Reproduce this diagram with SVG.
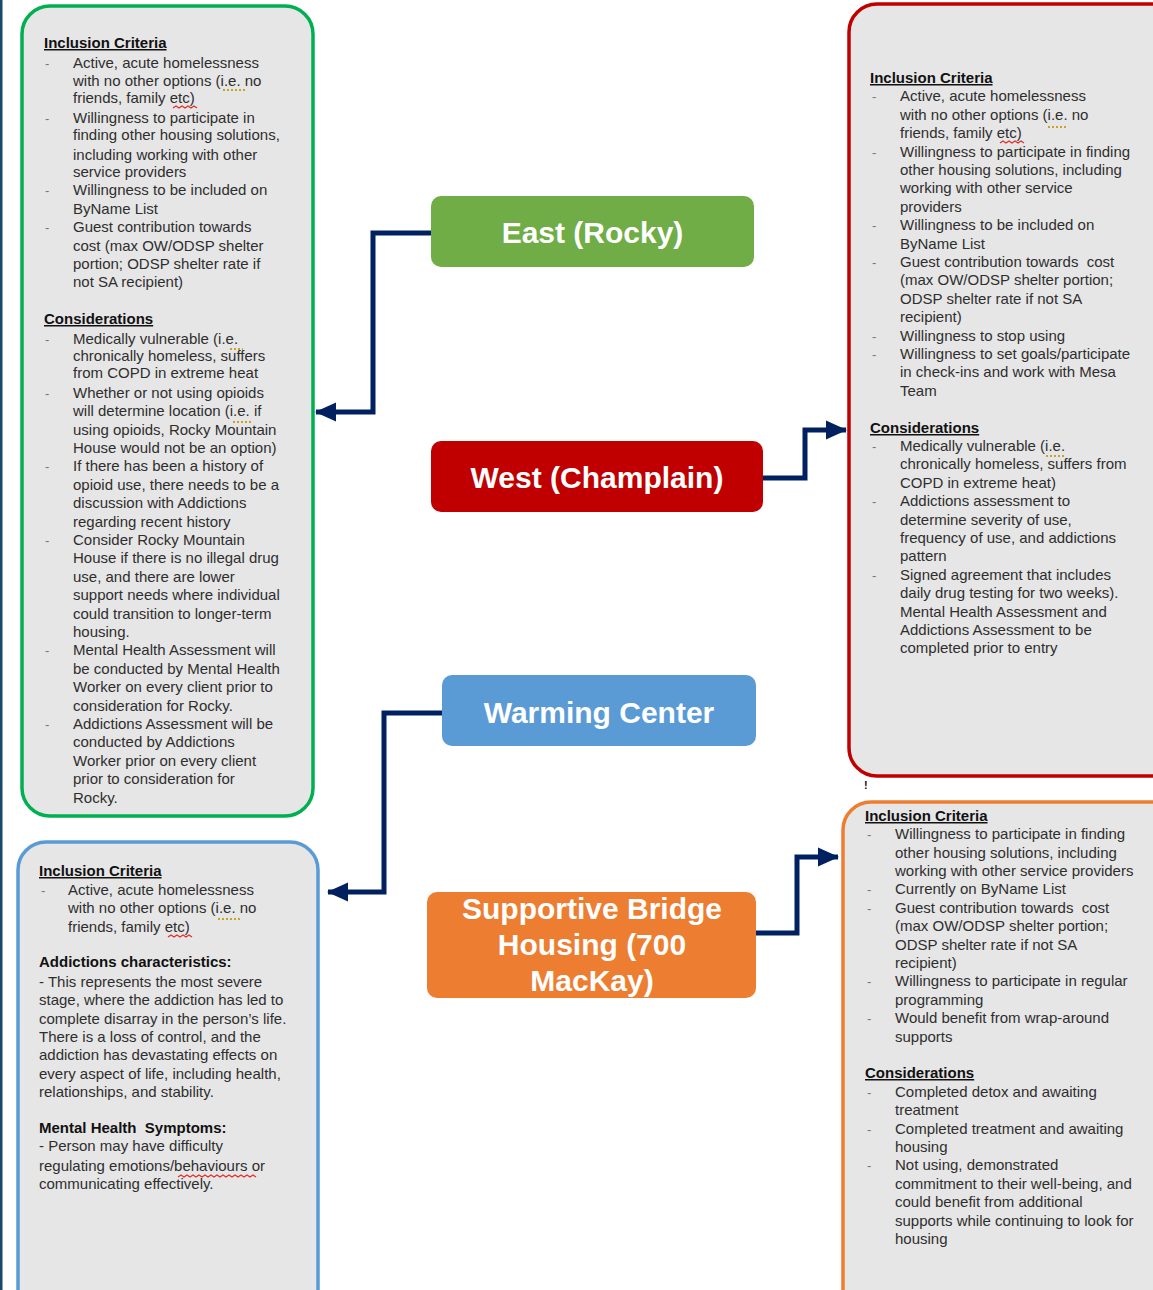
<svg xmlns="http://www.w3.org/2000/svg" width="1153" height="1290" viewBox="0 0 1153 1290">
<style>
.t{font-family:"Liberation Sans",Arial,sans-serif;font-size:15px;fill:#2e2e2e}
.h{font-family:"Liberation Sans",Arial,sans-serif;font-size:15px;font-weight:bold;fill:#111;text-decoration:underline}
.b{font-family:"Liberation Sans",Arial,sans-serif;font-size:15px;font-weight:bold;fill:#111}
.d{font-family:"Liberation Sans",Arial,sans-serif;font-size:13px;fill:#777}
.lbl{font-family:"Liberation Sans",Arial,sans-serif;font-size:30px;font-weight:bold;fill:#fff;text-anchor:middle}
.panel{fill:#e6e6e6;stroke-width:3.5}
.conn{fill:none;stroke:#002060;stroke-width:5;stroke-linejoin:miter}
.ie{fill:none;stroke:#c9a227;stroke-width:2;stroke-dasharray:2 2}
.sp{fill:none;stroke:#e0302a;stroke-width:1.3}
</style>
<defs>
<marker id="arr" markerUnits="userSpaceOnUse" markerWidth="22" markerHeight="22" viewBox="0 0 22 22" refX="20" refY="11" orient="auto">
<path d="M0,1.5 L21,11 L0,20.5 z" fill="#002060"/>
</marker>
</defs>
<rect x="0" y="0" width="1153" height="1290" fill="#ffffff"/>
<rect x="0" y="0" width="2.5" height="1290" fill="#17496b"/>

<g id="panel-east">
<rect class="panel" x="22" y="6" width="291" height="810" rx="28" stroke="#00b050"/>
<text class="h" x="44" y="48">Inclusion Criteria</text>
<text class="d" x="45" y="68">-</text><text class="t" x="73" y="68">Active, acute homelessness</text>
<text class="t" x="73" y="86">with no other options (i.e. no</text>
<text class="t" x="73" y="103">friends, family etc)</text>
<text class="d" x="45" y="123">-</text><text class="t" x="73" y="123">Willingness to participate in</text>
<text class="t" x="73" y="140">finding other housing solutions,</text>
<text class="t" x="73" y="160">including working with other</text>
<text class="t" x="73" y="177">service providers</text>
<text class="d" x="45" y="195">-</text><text class="t" x="73" y="195">Willingness to be included on</text>
<text class="t" x="73" y="214">ByName List</text>
<text class="d" x="45" y="232">-</text><text class="t" x="73" y="232">Guest contribution towards</text>
<text class="t" x="73" y="251">cost (max OW/ODSP shelter</text>
<text class="t" x="73" y="269">portion; ODSP shelter rate if</text>
<text class="t" x="73" y="287">not SA recipient)</text>
<text class="h" x="44" y="324">Considerations</text>
<text class="d" x="45" y="344">-</text><text class="t" x="73" y="344">Medically vulnerable (i.e.</text>
<text class="t" x="73" y="361">chronically homeless, suffers</text>
<text class="t" x="73" y="378">from COPD in extreme heat</text>
<text class="d" x="45" y="398">-</text><text class="t" x="73" y="398">Whether or not using opioids</text>
<text class="t" x="73" y="416">will determine location (i.e. if</text>
<text class="t" x="73" y="435">using opioids, Rocky Mountain</text>
<text class="t" x="73" y="453">House would not be an option)</text>
<text class="d" x="45" y="471">-</text><text class="t" x="73" y="471">If there has been a history of</text>
<text class="t" x="73" y="490">opioid use, there needs to be a</text>
<text class="t" x="73" y="508">discussion with Addictions</text>
<text class="t" x="73" y="527">regarding recent history</text>
<text class="d" x="45" y="545">-</text><text class="t" x="73" y="545">Consider Rocky Mountain</text>
<text class="t" x="73" y="563">House if there is no illegal drug</text>
<text class="t" x="73" y="582">use, and there are lower</text>
<text class="t" x="73" y="600">support needs where individual</text>
<text class="t" x="73" y="619">could transition to longer-term</text>
<text class="t" x="73" y="637">housing.</text>
<text class="d" x="45" y="655">-</text><text class="t" x="73" y="655">Mental Health Assessment will</text>
<text class="t" x="73" y="674">be conducted by Mental Health</text>
<text class="t" x="73" y="692">Worker on every client prior to</text>
<text class="t" x="73" y="711">consideration for Rocky.</text>
<text class="d" x="45" y="729">-</text><text class="t" x="73" y="729">Addictions Assessment will be</text>
<text class="t" x="73" y="747">conducted by Addictions</text>
<text class="t" x="73" y="766">Worker prior on every client</text>
<text class="t" x="73" y="784">prior to consideration for</text>
<text class="t" x="73" y="803">Rocky.</text>
</g>

<g id="panel-warming">
<rect class="panel" x="18" y="842" width="300" height="480" rx="28" stroke="#5b9bd5"/>
<text class="h" x="39" y="876">Inclusion Criteria</text>
<text class="d" x="41" y="895">-</text><text class="t" x="68" y="895">Active, acute homelessness</text>
<text class="t" x="68" y="913">with no other options (i.e. no</text>
<text class="t" x="68" y="932">friends, family etc)</text>
<text class="b" x="39" y="967">Addictions characteristics:</text>
<text class="t" x="39" y="987">- This represents the most severe</text>
<text class="t" x="39" y="1005">stage, where the addiction has led to</text>
<text class="t" x="39" y="1024">complete disarray in the person’s life.</text>
<text class="t" x="39" y="1042">There is a loss of control, and the</text>
<text class="t" x="39" y="1060">addiction has devastating effects on</text>
<text class="t" x="39" y="1079">every aspect of life, including health,</text>
<text class="t" x="39" y="1097">relationships, and stability.</text>
<text class="b" x="39" y="1133">Mental Health&#160; Symptoms:</text>
<text class="t" x="39" y="1151">- Person may have difficulty</text>
<text class="t" x="39" y="1171">regulating emotions/behaviours or</text>
<text class="t" x="39" y="1189">communicating effectively.</text>
</g>

<g id="panel-west">
<rect class="panel" x="849" y="4" width="340" height="772" rx="28" stroke="#c00000"/>
<text class="h" x="870" y="83">Inclusion Criteria</text>
<text class="d" x="872" y="101">-</text><text class="t" x="900" y="101">Active, acute homelessness</text>
<text class="t" x="900" y="120">with no other options (i.e. no</text>
<text class="t" x="900" y="138">friends, family etc)</text>
<text class="d" x="872" y="157">-</text><text class="t" x="900" y="157">Willingness to participate in finding</text>
<text class="t" x="900" y="175">other housing solutions, including</text>
<text class="t" x="900" y="193">working with other service</text>
<text class="t" x="900" y="212">providers</text>
<text class="d" x="872" y="230">-</text><text class="t" x="900" y="230">Willingness to be included on</text>
<text class="t" x="900" y="249">ByName List</text>
<text class="d" x="872" y="267">-</text><text class="t" x="900" y="267">Guest contribution towards&#160; cost</text>
<text class="t" x="900" y="285">(max OW/ODSP shelter portion;</text>
<text class="t" x="900" y="304">ODSP shelter rate if not SA</text>
<text class="t" x="900" y="322">recipient)</text>
<text class="d" x="872" y="341">-</text><text class="t" x="900" y="341">Willingness to stop using</text>
<text class="d" x="872" y="359">-</text><text class="t" x="900" y="359">Willingness to set goals/participate</text>
<text class="t" x="900" y="377">in check-ins and work with Mesa</text>
<text class="t" x="900" y="396">Team</text>
<text class="h" x="870" y="433">Considerations</text>
<text class="d" x="872" y="451">-</text><text class="t" x="900" y="451">Medically vulnerable (i.e.</text>
<text class="t" x="900" y="469">chronically homeless, suffers from</text>
<text class="t" x="900" y="488">COPD in extreme heat)</text>
<text class="d" x="872" y="506">-</text><text class="t" x="900" y="506">Addictions assessment to</text>
<text class="t" x="900" y="525">determine severity of use,</text>
<text class="t" x="900" y="543">frequency of use, and addictions</text>
<text class="t" x="900" y="561">pattern</text>
<text class="d" x="872" y="580">-</text><text class="t" x="900" y="580">Signed agreement that includes</text>
<text class="t" x="900" y="598">daily drug testing for two weeks).</text>
<text class="t" x="900" y="617">Mental Health Assessment and</text>
<text class="t" x="900" y="635">Addictions Assessment to be</text>
<text class="t" x="900" y="653">completed prior to entry</text>
<text class="b" x="864" y="789" style="font-size:11px">!</text>
</g>

<g id="panel-supportive">
<rect class="panel" x="843" y="802" width="340" height="520" rx="28" stroke="#ed7d31"/>
<text class="h" x="865" y="821">Inclusion Criteria</text>
<text class="d" x="867" y="839">-</text><text class="t" x="895" y="839">Willingness to participate in finding</text>
<text class="t" x="895" y="858">other housing solutions, including</text>
<text class="t" x="895" y="876">working with other service providers</text>
<text class="d" x="867" y="894">-</text><text class="t" x="895" y="894">Currently on ByName List</text>
<text class="d" x="867" y="913">-</text><text class="t" x="895" y="913">Guest contribution towards&#160; cost</text>
<text class="t" x="895" y="931">(max OW/ODSP shelter portion;</text>
<text class="t" x="895" y="950">ODSP shelter rate if not SA</text>
<text class="t" x="895" y="968">recipient)</text>
<text class="d" x="867" y="986">-</text><text class="t" x="895" y="986">Willingness to participate in regular</text>
<text class="t" x="895" y="1005">programming</text>
<text class="d" x="867" y="1023">-</text><text class="t" x="895" y="1023">Would benefit from wrap-around</text>
<text class="t" x="895" y="1042">supports</text>
<text class="h" x="865" y="1078">Considerations</text>
<text class="d" x="867" y="1097">-</text><text class="t" x="895" y="1097">Completed detox and awaiting</text>
<text class="t" x="895" y="1115">treatment</text>
<text class="d" x="867" y="1134">-</text><text class="t" x="895" y="1134">Completed treatment and awaiting</text>
<text class="t" x="895" y="1152">housing</text>
<text class="d" x="867" y="1170">-</text><text class="t" x="895" y="1170">Not using, demonstrated</text>
<text class="t" x="895" y="1189">commitment to their well-being, and</text>
<text class="t" x="895" y="1207">could benefit from additional</text>
<text class="t" x="895" y="1226">supports while continuing to look for</text>
<text class="t" x="895" y="1244">housing</text>
</g>

<g id="spellmarks">
<path class="ie" d="M223,90 H245 M230,349 H243 M233,422 H253 M1048,127 H1068 M1046,456 H1066 M218,919 H240"/>
<path class="sp" d="M173,108 l3,-2 l3,2 l3,-2 l3,2 l3,-2 l3,2 l3,-2 l3,2 M1000,143 l3,-2 l3,2 l3,-2 l3,2 l3,-2 l3,2 l3,-2 l3,2 M168,937 l3,-2 l3,2 l3,-2 l3,2 l3,-2 l3,2 l3,-2 l3,2 M178,1177 l3,-2 l3,2 l3,-2 l3,2 l3,-2 l3,2 l3,-2 l3,2 l3,-2 l3,2 l3,-2 l3,2 l3,-2 l3,2 l3,-2 l3,2 l3,-2 l3,2 l3,-2 l3,2 l3,-2 l3,2 l3,-2 l3,2 l3,-2 l3,2"/>
</g>

<g id="connectors">
<polyline class="conn" points="431,233 373,233 373,412 316,412" marker-end="url(#arr)"/>
<polyline class="conn" points="763,478 805,478 805,430 846,430" marker-end="url(#arr)"/>
<polyline class="conn" points="442,713 384,713 384,892 328,892" marker-end="url(#arr)"/>
<polyline class="conn" points="756,933 797,933 797,857 838,857" marker-end="url(#arr)"/>
</g>

<g id="node-east">
<rect x="431" y="196" width="323" height="71" rx="10" fill="#70ad47"/>
<text class="lbl" x="592.5" y="243">East (Rocky)</text>
</g>
<g id="node-west">
<rect x="431" y="441" width="332" height="71" rx="10" fill="#c00000"/>
<text class="lbl" x="597" y="488">West (Champlain)</text>
</g>
<g id="node-warming">
<rect x="442" y="675" width="314" height="71" rx="10" fill="#5b9bd5"/>
<text class="lbl" x="599" y="723">Warming Center</text>
</g>
<g id="node-supportive">
<rect x="427" y="892" width="329" height="106" rx="10" fill="#ed7d31"/>
<text class="lbl" x="592" y="919">Supportive Bridge</text>
<text class="lbl" x="592" y="955">Housing (700</text>
<text class="lbl" x="592" y="991">MacKay)</text>
</g>
</svg>
